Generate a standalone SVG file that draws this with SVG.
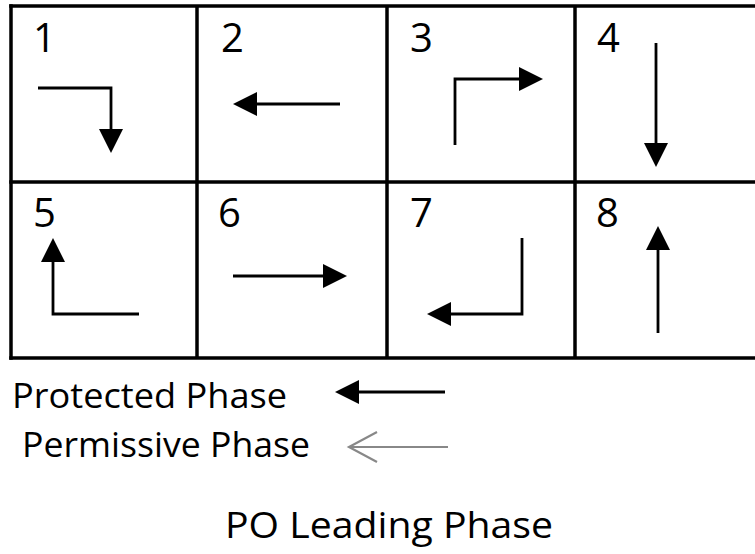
<svg xmlns="http://www.w3.org/2000/svg" width="755" height="554" viewBox="0 0 755 554">
<style>
.grid{stroke:#000;stroke-width:3.5;fill:none}
.arr{stroke:#000;stroke-width:2.8;fill:none;marker-end:url(#head)}
.num{font-family:"Open Sans","Liberation Sans",sans-serif;font-size:40px;fill:#000}
.lbl{font-family:"Open Sans","Liberation Sans",sans-serif;font-size:34px;fill:#000}
.ttl{font-family:"Open Sans","Liberation Sans",sans-serif;font-size:36px;fill:#000}
</style>
<defs>
<marker id="head" markerUnits="userSpaceOnUse" markerWidth="26" markerHeight="26" viewBox="0 -13 26 26" refX="0" refY="0" orient="auto">
<path d="M0,-12 L24,0 L0,12 z" fill="#000"/>
</marker>
</defs>
<rect width="755" height="554" fill="#fff"/>
<g id="grid">
<line class="grid" x1="9.25" y1="6" x2="755" y2="6"/>
<line class="grid" x1="9.25" y1="182" x2="755" y2="182"/>
<line class="grid" x1="9.25" y1="358" x2="755" y2="358"/>
<line class="grid" x1="11" y1="4.25" x2="11" y2="359.75"/>
<line class="grid" x1="197" y1="6" x2="197" y2="358"/>
<line class="grid" x1="387" y1="6" x2="387" y2="358"/>
<line class="grid" x1="575" y1="6" x2="575" y2="358"/>
</g>
<g id="cell1"><text class="num" x="33" y="52">1</text><path class="arr" d="M38,88 H111 V129"/></g>
<g id="cell2"><text class="num" x="221" y="52">2</text><path class="arr" d="M340,104 H257"/></g>
<g id="cell3"><text class="num" x="410" y="52">3</text><path class="arr" d="M455,145 V79 H519"/></g>
<g id="cell4"><text class="num" x="597" y="52">4</text><path class="arr" d="M656,43 V143"/></g>
<g id="cell5"><text class="num" x="33" y="227">5</text><path class="arr" d="M139,314 H53 V262"/></g>
<g id="cell6"><text class="num" x="218" y="227">6</text><path class="arr" d="M233,276 H323"/></g>
<g id="cell7"><text class="num" x="410" y="227">7</text><path class="arr" d="M522,238 V314 H451"/></g>
<g id="cell8"><text class="num" x="596" y="227">8</text><path class="arr" d="M658,333 V250"/></g>
<g id="legend">
<text class="lbl" x="12" y="408" textLength="275" lengthAdjust="spacingAndGlyphs">Protected Phase</text>
<path class="arr" d="M445,392 H359"/>
<text class="lbl" x="22" y="457" textLength="288" lengthAdjust="spacingAndGlyphs">Permissive Phase</text>
<line x1="448" y1="447" x2="349" y2="447" stroke="#888" stroke-width="2.2"/>
<polyline points="377,432 349,447 377,462" fill="none" stroke="#888" stroke-width="2.2"/>
</g>
<g id="title">
<text class="ttl" x="225" y="538" textLength="328" lengthAdjust="spacingAndGlyphs">PO Leading Phase</text>
</g>
</svg>
